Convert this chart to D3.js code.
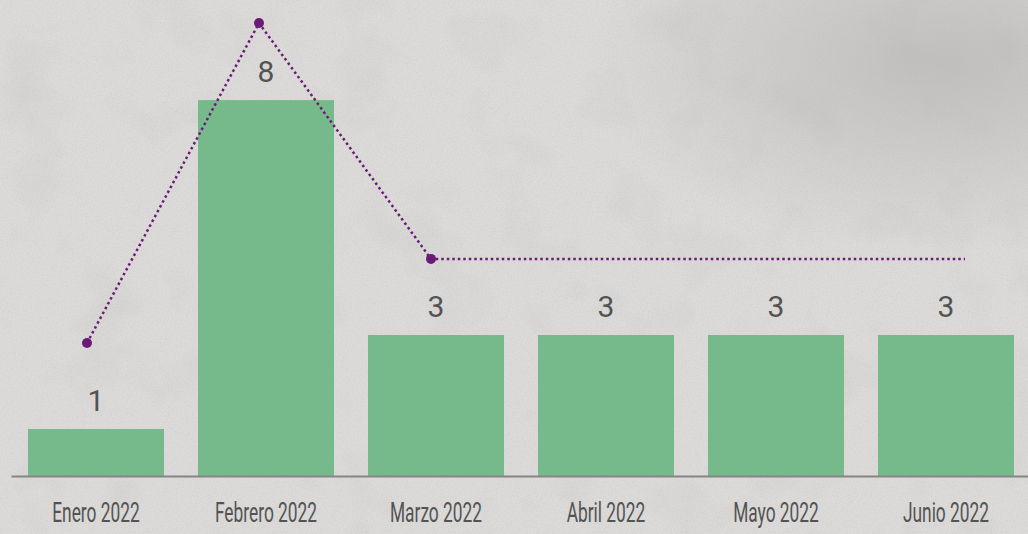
<!DOCTYPE html>
<html>
<head>
<meta charset="utf-8">
<script src="https://cdn.jsdelivr.net/npm/d3@7"></script>
<style>
  html, body { margin: 0; padding: 0; background: #d9d8d6; overflow: hidden; }
</style>
</head>
<body>
<div id="wrapper"></div>
<script>
// data
const months = ["Enero 2022", "Febrero 2022", "Marzo 2022", "Abril 2022", "Mayo 2022", "Junio 2022"];
const barValues = [1, 8, 3, 3, 3, 3];
// dotted trend line (same units as bars), markers only on the first three
const lineValues = [2.83, 9.64, 4.62, 4.62, 4.62, 4.62];
const lineMarkers = ["Enero 2022", "Febrero 2022", "Marzo 2022"];

function drawChart() {
    const width = 1028;
    const height = 534;
    const margin = { top: 0, right: -3, bottom: 58, left: 11 };

    const svg = d3.select("#wrapper")
        .html("")
        .append("svg")
        .attr("width", width)
        .attr("height", height);

    // concrete-ish background
    const defs = svg.append("defs");
    const noise = defs.append("filter").attr("id", "noise")
        .attr("x", 0).attr("y", 0).attr("width", "100%").attr("height", "100%");
    noise.append("feTurbulence")
        .attr("type", "fractalNoise").attr("baseFrequency", 0.8)
        .attr("numOctaves", 3).attr("seed", 4);
    noise.append("feColorMatrix").attr("type", "matrix")
        .attr("values", "0 0 0 0 0.45  0 0 0 0 0.45  0 0 0 0 0.44  0 0 0 -0.9 0.55");
    const blotch = defs.append("filter").attr("id", "blotch")
        .attr("x", 0).attr("y", 0).attr("width", "100%").attr("height", "100%");
    blotch.append("feTurbulence")
        .attr("type", "fractalNoise").attr("baseFrequency", 0.015)
        .attr("numOctaves", 4).attr("seed", 11);
    blotch.append("feColorMatrix").attr("type", "matrix")
        .attr("values", "0 0 0 0 0.55  0 0 0 0 0.55  0 0 0 0 0.54  0 0 0 -2.2 1.05");
    const glow = defs.append("radialGradient").attr("id", "corner")
        .attr("cx", 0.92).attr("cy", 0.12).attr("r", 0.35);
    glow.append("stop").attr("offset", "0%").attr("stop-color", "#a9a8a6").attr("stop-opacity", 0.55);
    glow.append("stop").attr("offset", "100%").attr("stop-color", "#a9a8a6").attr("stop-opacity", 0);

    svg.append("rect").attr("width", width).attr("height", height).attr("fill", "#dcdbd9");
    svg.append("rect").attr("width", width).attr("height", height).attr("filter", "url(#blotch)").attr("opacity", 0.35);
    svg.append("rect").attr("width", width).attr("height", height).attr("fill", "url(#corner)");
    svg.append("rect").attr("width", width).attr("height", height).attr("filter", "url(#noise)").attr("opacity", 0.55);

    const x = d3.scaleBand()
        .domain(months)
        .range([margin.left, width - margin.right])
        .paddingInner(0.2)
        .paddingOuter(0.1);

    const y = d3.scaleLinear()
        .domain([0, 10.13])
        .range([height - margin.bottom, margin.top]);

    // bars
    svg.append("g")
        .selectAll("rect")
        .data(barValues)
        .join("rect")
        .attr("x", (d, i) => x(months[i]))
        .attr("y", d => y(d))
        .attr("width", x.bandwidth())
        .attr("height", d => y(0) - y(d))
        .attr("fill", "#76b98a");

    // value labels
    svg.append("g")
        .selectAll("text")
        .data(barValues)
        .join("text")
        .attr("x", (d, i) => x(months[i]) + x.bandwidth() / 2)
        .attr("y", d => y(d) - 18)
        .attr("text-anchor", "middle")
        .attr("font-family", "Roboto, sans-serif")
        .attr("font-size", "30px")
        .attr("fill", "#535353")
        .text(d => d);

    // x axis
    const xAxis = svg.append("g")
        .attr("transform", `translate(0,${y(0)})`)
        .call(d3.axisBottom(x).tickSize(0).tickPadding(0));
    xAxis.select(".domain")
        .attr("stroke", "#858585")
        .attr("stroke-width", 2);
    xAxis.selectAll(".tick text")
        .attr("y", 0)
        .attr("dy", 0)
        .attr("transform", "translate(0,46) scale(0.62,1)")
        .attr("font-family", "Roboto, sans-serif")
        .attr("font-size", "28px")
        .attr("fill", "#535353");

    // trend line, shifted slightly left of the bar centres
    const xLine = d3.scalePoint()
        .domain(months)
        .range([87, 947]);
    const linePts = lineValues.map((v, i) => [xLine(months[i]), y(v)]);
    linePts.push([xLine(months[months.length - 1]) + 18, y(lineValues[lineValues.length - 1])]);

    svg.append("path")
        .datum(linePts)
        .attr("d", d3.line())
        .attr("fill", "none")
        .attr("stroke", "#6b1a78")
        .attr("stroke-width", 2.5)
        .attr("stroke-dasharray", "2.5,3");

    svg.append("g")
        .selectAll("circle")
        .data(lineMarkers)
        .join("circle")
        .attr("cx", d => xLine(d))
        .attr("cy", d => y(lineValues[months.indexOf(d)]))
        .attr("r", 5)
        .attr("fill", "#6b1a78");
}

drawChart();
</script>
</body>
</html>
